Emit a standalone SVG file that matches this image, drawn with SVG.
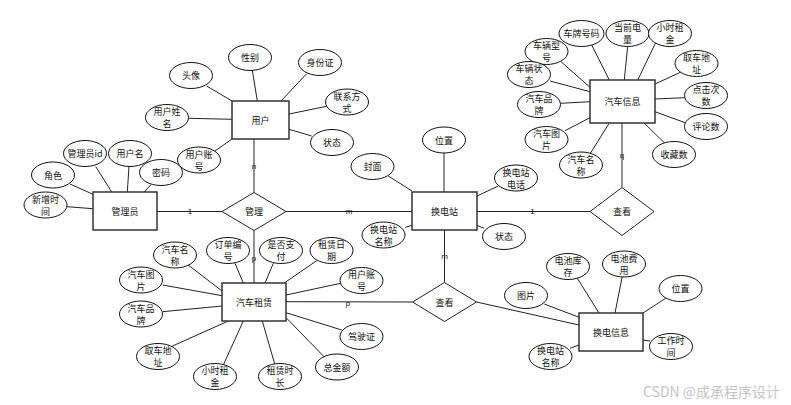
<svg xmlns="http://www.w3.org/2000/svg" width="791" height="405" viewBox="0 0 791 405">
<style>
text{font-family:"Noto Sans CJK SC","Liberation Sans",sans-serif;font-size:9px;fill:#111;text-anchor:middle;dominant-baseline:central}
.ent{fill:#fff;stroke:#333;stroke-width:1.5}
.att{fill:#fff;stroke:#111;stroke-width:1}
.rel{fill:#fff;stroke:#222;stroke-width:1}
#connectors line{stroke:#222;stroke-width:1}
.card{font-family:"Liberation Sans",sans-serif;font-size:8px}
.wm{font-size:14px;fill:#c4c4c4;text-anchor:start;dominant-baseline:auto}
</style>
<rect width="791" height="405" fill="#fff"/>
<g id="connectors">
<!-- user -->
<line x1="206.7" y1="86" x2="232" y2="101"/>
<line x1="252.3" y1="70" x2="257.3" y2="101"/>
<line x1="306.7" y1="73.7" x2="281" y2="101"/>
<line x1="326.7" y1="106.3" x2="289" y2="114"/>
<line x1="188.7" y1="118.3" x2="232" y2="119.3"/>
<line x1="311.7" y1="136" x2="289" y2="129.3"/>
<line x1="215" y1="151" x2="232" y2="139"/>
<line x1="254" y1="139" x2="254" y2="192.5"/>
<!-- admin -->
<line x1="95.7" y1="166.5" x2="111.7" y2="192"/>
<line x1="129" y1="166.5" x2="127.3" y2="192"/>
<line x1="151" y1="184.7" x2="144" y2="192"/>
<line x1="70" y1="184" x2="93" y2="194.3"/>
<line x1="67" y1="206.7" x2="93" y2="208.7"/>
<line x1="157" y1="211.5" x2="222" y2="211.5"/>
<line x1="286" y1="211.5" x2="412" y2="211.5"/>
<line x1="254" y1="230.5" x2="254" y2="283"/>
<!-- station -->
<line x1="444" y1="153" x2="444" y2="192"/>
<line x1="388.3" y1="176" x2="412" y2="191"/>
<line x1="498.3" y1="186" x2="477" y2="196"/>
<line x1="405.3" y1="227.3" x2="412" y2="225.3"/>
<line x1="484" y1="228.3" x2="477" y2="225.3"/>
<line x1="477" y1="211.5" x2="590" y2="211.5"/>
<line x1="444.5" y1="230" x2="444.5" y2="282.5"/>
<!-- car -->
<line x1="591.7" y1="45" x2="609.3" y2="80"/>
<line x1="627.7" y1="46" x2="624.3" y2="80"/>
<line x1="655.7" y1="42.7" x2="637.7" y2="80"/>
<line x1="561" y1="61.7" x2="590" y2="87.3"/>
<line x1="550" y1="81" x2="590" y2="91.7"/>
<line x1="560.7" y1="103.3" x2="590" y2="101.7"/>
<line x1="565" y1="130.7" x2="590" y2="117.7"/>
<line x1="588.3" y1="156.7" x2="609.3" y2="123"/>
<line x1="681.7" y1="71.7" x2="655" y2="84"/>
<line x1="684.3" y1="97.7" x2="655" y2="99"/>
<line x1="685" y1="122.7" x2="655" y2="111.7"/>
<line x1="666.7" y1="145" x2="644" y2="123"/>
<line x1="622" y1="123" x2="622" y2="187.5"/>
<!-- rent -->
<line x1="187.3" y1="264.3" x2="222" y2="291"/>
<line x1="235" y1="263.3" x2="243.3" y2="283"/>
<line x1="273.3" y1="263.3" x2="265" y2="283"/>
<line x1="316.7" y1="260.7" x2="284.3" y2="283"/>
<line x1="340.7" y1="283.3" x2="286" y2="295"/>
<line x1="162.7" y1="285" x2="222" y2="295.7"/>
<line x1="162.7" y1="311.7" x2="222" y2="306"/>
<line x1="341.7" y1="330" x2="286" y2="312.7"/>
<line x1="171" y1="346.7" x2="228.3" y2="321"/>
<line x1="324" y1="356.7" x2="286.7" y2="318.3"/>
<line x1="223.3" y1="365" x2="243.3" y2="321"/>
<line x1="275" y1="365" x2="262.3" y2="321"/>
<line x1="286" y1="301.7" x2="412.5" y2="302"/>
<!-- swap -->
<line x1="476.5" y1="302" x2="579" y2="325"/>
<line x1="544.3" y1="304" x2="579" y2="317.3"/>
<line x1="576.7" y1="277.3" x2="599" y2="313"/>
<line x1="622.3" y1="276" x2="615" y2="313"/>
<line x1="665.7" y1="298.3" x2="643" y2="313"/>
<line x1="570" y1="348.3" x2="579" y2="345"/>
<line x1="650" y1="341" x2="643" y2="340"/>
<text class="card" x="190" y="211.5">1</text>
<text class="card" x="349" y="211.5">m</text>
<text class="card" x="254" y="166.5">n</text>
<text class="card" x="532.5" y="211">1</text>
<text class="card" x="622" y="155">q</text>
<text class="card" x="444.5" y="256.5">m</text>
<text class="card" x="254" y="258">p</text>
<text class="card" x="348" y="303">p</text>
</g>
<!-- entities -->
<g id="e-user"><rect class="ent" x="232" y="101" width="57" height="38"/><text x="260.5" y="120">用户</text></g>
<g id="e-admin"><rect class="ent" x="93" y="192" width="64" height="38"/><text x="125" y="211">管理员</text></g>
<g id="e-station"><rect class="ent" x="412" y="192" width="65" height="38"/><text x="444.5" y="211">换电站</text></g>
<g id="e-car"><rect class="ent" x="590" y="80" width="65" height="43"/><text x="622.5" y="101.5">汽车信息</text></g>
<g id="e-rent"><rect class="ent" x="222" y="283" width="64" height="38"/><text x="254" y="302">汽车租赁</text></g>
<g id="e-swap"><rect class="ent" x="579" y="313" width="64" height="38"/><text x="611" y="332">换电信息</text></g>
<!-- relations -->
<g id="r-manage"><polygon class="rel" points="222,211.5 254,192.5 286,211.5 254,230.5"/><text x="254" y="211.5">管理</text></g>
<g id="r-view1"><polygon class="rel" points="590,211.5 622,187.5 654,211.5 622,235.5"/><text x="622" y="211.5">查看</text></g>
<g id="r-view2"><polygon class="rel" points="412.5,302 444.5,282.5 476.5,302 444.5,321.5"/><text x="444.5" y="302">查看</text></g>
<!-- user attributes -->
<g id="a-u-gender"><ellipse class="att" cx="250" cy="57.5" rx="21.5" ry="13"/><text x="250" y="57.5">性别</text></g>
<g id="a-u-idcard"><ellipse class="att" cx="320" cy="62.5" rx="21.5" ry="13"/><text x="320" y="62.5">身份证</text></g>
<g id="a-u-avatar"><ellipse class="att" cx="191" cy="75.5" rx="21.5" ry="13"/><text x="191" y="75.5">头像</text></g>
<g id="a-u-contact"><ellipse class="att" cx="347" cy="102" rx="21.5" ry="13"/><text x="347" y="96">联系方</text><text x="347" y="108.3">式</text></g>
<g id="a-u-name"><ellipse class="att" cx="167" cy="117.5" rx="21.5" ry="13"/><text x="167" y="111.5">用户姓</text><text x="167" y="123.8">名</text></g>
<g id="a-u-status"><ellipse class="att" cx="332" cy="142.5" rx="21.5" ry="13"/><text x="332" y="142.5">状态</text></g>
<g id="a-u-account"><ellipse class="att" cx="199" cy="160" rx="21.5" ry="13"/><text x="199" y="154">用户账</text><text x="199" y="166.3">号</text></g>
<!-- admin attributes -->
<g id="a-a-id"><ellipse class="att" cx="85" cy="153.5" rx="21.5" ry="13"/><text x="85" y="153.5">管理员id</text></g>
<g id="a-a-username"><ellipse class="att" cx="130" cy="153.5" rx="21.5" ry="13"/><text x="130" y="153.5">用户名</text></g>
<g id="a-a-pwd"><ellipse class="att" cx="161" cy="172.5" rx="21.5" ry="13"/><text x="161" y="172.5">密码</text></g>
<g id="a-a-role"><ellipse class="att" cx="53" cy="175" rx="21.5" ry="13"/><text x="53" y="175">角色</text></g>
<g id="a-a-time"><ellipse class="att" cx="45.5" cy="205" rx="21.5" ry="13"/><text x="45.5" y="199">新增时</text><text x="45.5" y="211.3">间</text></g>
<!-- station attributes -->
<g id="a-s-loc"><ellipse class="att" cx="444" cy="140" rx="21.5" ry="13"/><text x="444" y="140">位置</text></g>
<g id="a-s-cover"><ellipse class="att" cx="372.5" cy="166.5" rx="21.5" ry="13"/><text x="372.5" y="166.5">封面</text></g>
<g id="a-s-phone"><ellipse class="att" cx="516" cy="178" rx="21.5" ry="13"/><text x="516" y="172">换电站</text><text x="516" y="184.3">电话</text></g>
<g id="a-s-name"><ellipse class="att" cx="383.5" cy="235" rx="21.5" ry="13"/><text x="383.5" y="229">换电站</text><text x="383.5" y="241.3">名称</text></g>
<g id="a-s-status"><ellipse class="att" cx="504" cy="236.5" rx="21.5" ry="13"/><text x="504" y="236.5">状态</text></g>
<!-- car attributes -->
<g id="a-c-plate"><ellipse class="att" cx="581.5" cy="33.5" rx="22.5" ry="13"/><text x="581.5" y="33.5">车牌号码</text></g>
<g id="a-c-power"><ellipse class="att" cx="627.5" cy="33.5" rx="21.5" ry="13"/><text x="627.5" y="27.5">当前电</text><text x="627.5" y="39.8">量</text></g>
<g id="a-c-rent"><ellipse class="att" cx="670" cy="33.5" rx="21.5" ry="13"/><text x="670" y="27.5">小时租</text><text x="670" y="39.8">金</text></g>
<g id="a-c-model"><ellipse class="att" cx="546.5" cy="51.5" rx="21.5" ry="13"/><text x="546.5" y="45.5">车辆型</text><text x="546.5" y="57.8">号</text></g>
<g id="a-c-status"><ellipse class="att" cx="529" cy="74.5" rx="21.5" ry="13"/><text x="529" y="68.5">车辆状</text><text x="529" y="80.8">态</text></g>
<g id="a-c-pickup"><ellipse class="att" cx="696.5" cy="63.5" rx="21.5" ry="13"/><text x="696.5" y="57.5">取车地</text><text x="696.5" y="69.8">址</text></g>
<g id="a-c-clicks"><ellipse class="att" cx="706" cy="95.5" rx="21.5" ry="13"/><text x="706" y="89.5">点击次</text><text x="706" y="101.8">数</text></g>
<g id="a-c-brand"><ellipse class="att" cx="539" cy="104.5" rx="21.5" ry="13"/><text x="539" y="98.5">汽车品</text><text x="539" y="110.8">牌</text></g>
<g id="a-c-comments"><ellipse class="att" cx="706" cy="126.5" rx="21.5" ry="13"/><text x="706" y="126.5">评论数</text></g>
<g id="a-c-pic"><ellipse class="att" cx="546.5" cy="139.5" rx="21.5" ry="13"/><text x="546.5" y="133.5">汽车图</text><text x="546.5" y="145.8">片</text></g>
<g id="a-c-fav"><ellipse class="att" cx="674" cy="154.5" rx="21.5" ry="13"/><text x="674" y="154.5">收藏数</text></g>
<g id="a-c-name"><ellipse class="att" cx="581" cy="165" rx="21.5" ry="13"/><text x="581" y="159">汽车名</text><text x="581" y="171.3">称</text></g>
<!-- rent attributes -->
<g id="a-r-name"><ellipse class="att" cx="175" cy="255" rx="21.5" ry="13"/><text x="175" y="249">汽车名</text><text x="175" y="261.3">称</text></g>
<g id="a-r-order"><ellipse class="att" cx="228" cy="250.5" rx="21.5" ry="13"/><text x="228" y="244.5">订单编</text><text x="228" y="256.8">号</text></g>
<g id="a-r-paid"><ellipse class="att" cx="281" cy="250.5" rx="21.5" ry="13"/><text x="281" y="244.5">是否支</text><text x="281" y="256.8">付</text></g>
<g id="a-r-date"><ellipse class="att" cx="331.5" cy="250.5" rx="21.5" ry="13"/><text x="331.5" y="244.5">租赁日</text><text x="331.5" y="256.8">期</text></g>
<g id="a-r-account"><ellipse class="att" cx="361.5" cy="280.5" rx="21.5" ry="13"/><text x="361.5" y="274.5">用户账</text><text x="361.5" y="286.8">号</text></g>
<g id="a-r-pic"><ellipse class="att" cx="141" cy="280" rx="21.5" ry="13"/><text x="141" y="274">汽车图</text><text x="141" y="286.3">片</text></g>
<g id="a-r-brand"><ellipse class="att" cx="141" cy="314" rx="21.5" ry="13"/><text x="141" y="308">汽车品</text><text x="141" y="320.3">牌</text></g>
<g id="a-r-license"><ellipse class="att" cx="361.5" cy="336.5" rx="21.5" ry="13"/><text x="361.5" y="336.5">驾驶证</text></g>
<g id="a-r-pickup"><ellipse class="att" cx="158" cy="356.5" rx="21.5" ry="13"/><text x="158" y="350.5">取车地</text><text x="158" y="362.8">址</text></g>
<g id="a-r-total"><ellipse class="att" cx="337" cy="367" rx="21.5" ry="13"/><text x="337" y="367">总金额</text></g>
<g id="a-r-hourly"><ellipse class="att" cx="215" cy="376.5" rx="21.5" ry="13"/><text x="215" y="370.5">小时租</text><text x="215" y="382.8">金</text></g>
<g id="a-r-duration"><ellipse class="att" cx="280" cy="376.5" rx="21.5" ry="13"/><text x="280" y="370.5">租赁时</text><text x="280" y="382.8">长</text></g>
<!-- swap attributes -->
<g id="a-w-pic"><ellipse class="att" cx="526" cy="295.5" rx="21.5" ry="13"/><text x="526" y="295.5">图片</text></g>
<g id="a-w-stock"><ellipse class="att" cx="568" cy="266.5" rx="21.5" ry="13"/><text x="568" y="260.5">电池库</text><text x="568" y="272.8">存</text></g>
<g id="a-w-fee"><ellipse class="att" cx="624" cy="264" rx="21.5" ry="13"/><text x="624" y="258">电池费</text><text x="624" y="270.3">用</text></g>
<g id="a-w-loc"><ellipse class="att" cx="680.5" cy="288.5" rx="21.5" ry="13"/><text x="680.5" y="288.5">位置</text></g>
<g id="a-w-name"><ellipse class="att" cx="550.5" cy="356.5" rx="21.5" ry="13"/><text x="550.5" y="350.5">换电站</text><text x="550.5" y="362.8">名称</text></g>
<g id="a-w-hours"><ellipse class="att" cx="671" cy="346.5" rx="21.5" ry="13"/><text x="671" y="340.5">工作时</text><text x="671" y="352.8">间</text></g>
<text class="wm" x="643" y="396.5">CSDN @成承程序设计</text>
</svg>
